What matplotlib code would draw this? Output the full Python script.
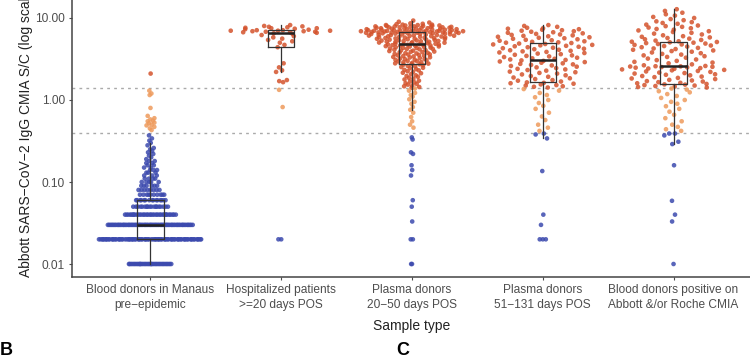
import numpy as np
import matplotlib
matplotlib.use("Agg")
import matplotlib.pyplot as plt
from matplotlib.ticker import NullLocator

plt.rcParams['font.family'] = ['Liberation Sans', 'DejaVu Sans']

categories = ["Blood donors in Manaus\npre\u2212epidemic",
              "Hospitalized patients\n>=20 days POS",
              "Plasma donors\n20\u221250 days POS",
              "Plasma donors\n51\u2212131 days POS",
              "Blood donors positive on\nAbbott &/or Roche CMIA"]

# pre-epidemic donors: S/C values are reported in 0.01 steps, so keep level + count
pre_levels = [0.01, 0.02, 0.03, 0.04, 0.05, 0.06, 0.07, 0.08, 0.09, 0.10,
              0.11, 0.12, 0.13, 0.14, 0.15, 0.16, 0.17, 0.18, 0.19, 0.20,
              0.21, 0.22, 0.23, 0.24, 0.25, 0.26, 0.28, 0.30, 0.32, 0.34, 0.37,
              0.43, 0.45, 0.47, 0.49, 0.50, 0.52, 0.53, 0.55, 0.56, 0.58, 0.60,
              0.64, 0.80, 1.15, 1.20, 1.30, 2.10]
pre_counts = [34, 80, 64, 34, 18, 15, 10, 8, 6, 5,
              4, 3, 3, 3, 2, 2, 2, 2, 1, 1,
              1, 1, 1, 1, 1, 1, 1, 1, 1, 1, 1,
              1, 1, 1, 1, 1, 1, 1, 1, 1, 1, 1,
              1, 1, 1, 1, 1, 1]

hosp = [8.2, 8.0, 7.9, 7.8, 7.7, 7.6, 7.5, 7.5, 7.4, 7.3, 7.2,
        7.1,
        7.1, 7.0, 7.0, 7.0, 6.9, 6.9, 6.8, 6.8, 6.7, 6.7,
        6.6,
        6.5, 6.4, 6.2, 6.0, 5.8, 5.6, 5.4, 5.2, 5.0, 4.7,
        4.4,
        2.8, 2.5, 2.3, 2.2, 1.75, 1.7, 1.65, 1.33, 0.82, 0.02, 0.02]

plasma_early = [
    9.3, 9.0, 8.8, 8.6, 8.5, 8.4, 8.3, 8.3, 8.2, 8.2, 8.1, 8.1,
    8.0, 8.0, 8.0, 7.9, 7.9, 7.9, 7.8, 7.8, 7.8, 7.7, 7.7, 7.7,
    7.6, 7.6, 7.6, 7.5, 7.5, 7.5, 7.4, 7.4, 7.4, 7.3, 7.3, 7.3,
    7.2, 7.2, 7.2, 7.1, 7.1, 7.1, 7.1, 7.0, 7.0, 7.0, 7.0, 6.95,
    6.95, 6.9, 6.9, 6.9, 6.85, 6.85, 6.8, 6.8, 6.8, 6.75, 6.75, 6.72,
    6.7,
    6.68, 6.66, 6.64, 6.62, 6.6, 6.58, 6.55, 6.52, 6.5, 6.46,
    6.44, 6.4, 6.38, 6.34, 6.3, 6.28, 6.24, 6.2, 6.18, 6.14,
    6.1, 6.08, 6.04, 6.0, 5.98, 5.94, 5.9, 5.88, 5.84, 5.8,
    5.78, 5.74, 5.7, 5.68, 5.64, 5.6, 5.58, 5.54, 5.5, 5.48,
    5.44, 5.4, 5.36, 5.33, 5.3, 5.25, 5.22, 5.2, 5.15, 5.12,
    5.1, 5.06, 5.02, 5.0, 4.95, 4.92, 4.88, 4.85, 4.8,
    4.78,
    4.76, 4.74, 4.72, 4.7, 4.66, 4.63, 4.6, 4.58, 4.54, 4.5,
    4.48, 4.44, 4.4, 4.36, 4.32, 4.3, 4.25, 4.2, 4.18, 4.15,
    4.1, 4.06, 4.02, 4.0, 3.95, 3.9, 3.88, 3.85, 3.8, 3.76,
    3.72, 3.7, 3.65, 3.6, 3.58, 3.55, 3.5, 3.48, 3.44, 3.4,
    3.35, 3.32, 3.3, 3.25, 3.2, 3.18, 3.15, 3.1, 3.08, 3.05,
    3.0, 2.98, 2.95, 2.9, 2.88, 2.84, 2.8, 2.78, 2.75,
    2.72,
    2.7, 2.66, 2.6, 2.58, 2.52, 2.47, 2.44, 2.38, 2.33, 2.3,
    2.24, 2.2, 2.15, 2.12, 2.06, 2.0, 1.96, 1.92, 1.86, 1.82,
    1.78, 1.72, 1.68, 1.64, 1.6, 1.57, 1.54, 1.5, 1.47, 1.44, 1.41,
    1.38, 1.3, 1.22, 1.15, 1.1, 1.02, 0.95, 0.9, 0.82, 0.76,
    0.7, 0.62, 0.55, 0.5, 0.46,
    0.35, 0.33, 0.23, 0.22, 0.16, 0.14, 0.12, 0.06, 0.05, 0.033,
    0.02, 0.02, 0.01, 0.01]

plasma_late = [
    8.2, 8.0, 7.8, 7.6, 7.5, 7.4, 7.3, 7.2, 7.1, 7.0, 6.9,
    6.8, 6.7, 6.6, 6.5, 6.4, 6.3, 6.22, 6.14, 6.06, 5.98, 5.9,
    5.82, 5.74, 5.66, 5.58, 5.5, 5.42, 5.35, 5.28, 5.2, 5.12, 5.05,
    5.0,
    4.95, 4.88, 4.82, 4.76, 4.7, 4.64, 4.58, 4.52, 4.46, 4.4,
    4.34, 4.28, 4.22, 4.16, 4.1, 4.04, 3.98, 3.92, 3.86, 3.8,
    3.74, 3.68, 3.62, 3.56, 3.5, 3.45, 3.4, 3.34, 3.28, 3.22, 3.18, 3.12,
    3.08,
    3.04, 3.0, 2.95, 2.9, 2.85, 2.8, 2.76, 2.72, 2.68, 2.64,
    2.6, 2.55, 2.5, 2.45, 2.4, 2.36, 2.32, 2.28, 2.22, 2.18,
    2.14, 2.1, 2.05, 2.0, 1.96, 1.92, 1.88, 1.84, 1.8, 1.75, 1.72, 1.68,
    1.64,
    1.62, 1.6, 1.58, 1.55, 1.52, 1.5, 1.47, 1.45, 1.42,
    1.36, 1.3, 1.22, 1.15, 1.08, 1.0, 0.92, 0.85, 0.78, 0.7,
    0.63, 0.57, 0.5, 0.46, 0.42,
    0.39, 0.38, 0.34, 0.136, 0.04, 0.03, 0.02, 0.02, 0.02]

pos_donors = [
    12.8, 12.2, 11.6, 11.1, 10.7, 10.3, 10.0, 9.7, 9.4, 9.1,
    8.9, 8.7, 8.5, 8.3, 8.1, 7.95, 7.8, 7.65, 7.5, 7.35,
    7.2, 7.05, 6.9, 6.75, 6.6, 6.45, 6.3, 6.15, 6.0, 5.9,
    5.8, 5.7, 5.6, 5.5, 5.4, 5.3, 5.2,
    5.14,
    5.1, 5.05, 5.0, 4.94, 4.88, 4.82, 4.76, 4.7, 4.62, 4.55,
    4.48, 4.4, 4.32, 4.25, 4.18, 4.1, 4.02, 3.95, 3.88, 3.8,
    3.72, 3.65, 3.58, 3.5, 3.42, 3.35, 3.28, 3.2, 3.12, 3.06,
    3.0, 2.92, 2.86, 2.8, 2.72, 2.65,
    2.6,
    2.58, 2.57, 2.56, 2.54, 2.52, 2.5, 2.48, 2.45, 2.42, 2.4,
    2.36, 2.33, 2.3, 2.26, 2.23, 2.2, 2.16, 2.13, 2.1, 2.06,
    2.03, 2.0, 1.96, 1.93, 1.9, 1.86, 1.83, 1.8, 1.76, 1.73,
    1.7, 1.68, 1.65, 1.62, 1.6, 1.57,
    1.55,
    1.54, 1.52, 1.5, 1.48, 1.46, 1.44, 1.42,
    1.38, 1.34, 1.28, 1.24, 1.18, 1.12, 1.06, 1.0, 0.95, 0.9,
    0.84, 0.78, 0.72, 0.66, 0.6, 0.55, 0.5, 0.47, 0.44, 0.42,
    0.39, 0.39, 0.37, 0.31, 0.29, 0.16, 0.059, 0.04, 0.033, 0.01]

cutoffs = [1.4, 0.4]

RED = '#d4532d'
ORANGE = '#ee9a5c'
BLUE = '#3c4aae'


def van_der_corput(n):
    seq = np.zeros(n)
    for i in range(n):
        k, denom = i + 1, 1.0
        while k:
            denom *= 2
            seq[i] += (k % 2) / denom
            k //= 2
    return seq


def quasirandom(vals, width=0.4, adjust=0.5):
    # same idea as ggbeeswarm::geom_quasirandom, density taken on the log scale
    y = np.log10(vals)
    n = len(y)
    q75, q25 = np.percentile(y, [75, 25])
    spread = min(np.std(y, ddof=1), (q75 - q25) / 1.34)
    bw = 0.9 * spread * n ** -0.2 * adjust
    grid = np.linspace(y.min() - 3 * bw, y.max() + 3 * bw, 1024)
    dens_grid = np.exp(-0.5 * ((grid[:, None] - y[None, :]) / bw) ** 2).sum(1)
    dens = np.interp(y, grid, dens_grid) / dens_grid.max()
    rank = np.empty(n, int)
    rank[np.argsort(y, kind='stable')] = np.arange(n)
    return (van_der_corput(n)[rank] - 0.5) * 2 * dens * width


def box_stats(vals):
    y = np.log10(vals)
    q1, med, q3 = np.percentile(y, [25, 50, 75])
    iqr = q3 - q1
    lo = y[y >= q1 - 1.5 * iqr].min()
    hi = y[y <= q3 + 1.5 * iqr].max()
    return dict(med=10 ** med, q1=10 ** q1, q3=10 ** q3,
                whislo=10 ** lo, whishi=10 ** hi, fliers=[])


pre = np.repeat(pre_levels, pre_counts)
groups = [pre, np.array(hosp), np.array(plasma_early),
          np.array(plasma_late), np.array(pos_donors)]

fig = plt.figure(figsize=(7.5, 3.6), dpi=100)
ax = fig.add_axes([72 / 750, 83 / 360, 680 / 750, 292 / 360])
ax.set_yscale('log')

for c in cutoffs:
    ax.axhline(c, color='#aaaaaa', lw=1.0, ls=(0, (2, 3)), zorder=1)

for i, vals in enumerate(groups):
    xs = i + 1 + quasirandom(vals)
    cols = np.where(vals >= cutoffs[0], RED,
                    np.where(vals >= cutoffs[1], ORANGE, BLUE))
    ax.scatter(xs, vals, s=11, c=cols, alpha=0.85, linewidths=0, zorder=2)

line = dict(color='#333333', lw=0.9)
ax.bxp([box_stats(v) for v in groups], positions=range(1, 6), widths=0.2,
       showfliers=False, showcaps=False, boxprops=line, whiskerprops=line,
       medianprops=dict(color='#222222', lw=1.8), zorder=3)

ax.set_xlim(0.4, 5.6)
ax.set_ylim(10 ** -2.1585, 10 ** 1.4024)
ax.set_xticks(range(1, 6))
ax.set_xticklabels(categories, linespacing=1.35)
ax.set_yticks([0.01, 0.1, 1, 10])
ax.set_yticklabels(['0.01', '0.10', '1.00', '10.00'])
ax.yaxis.set_minor_locator(NullLocator())
ax.tick_params(colors='#4d4d4d', labelsize=8.6, length=2.5, width=0.8, pad=2.5)

for s in ['top', 'right']:
    ax.spines[s].set_visible(False)
for s in ['left', 'bottom']:
    ax.spines[s].set_color('#444444')
    ax.spines[s].set_linewidth(1.1)

ax.set_xlabel('Sample type', fontsize=10, color='#222222', labelpad=6)
ax.set_ylabel('Abbott SARS\u2212CoV\u22122 IgG CMIA S/C (log scale)',
              fontsize=10, color='#222222')
ax.yaxis.set_label_coords(-0.057, 0.5)

fig.text(0.0, 0.014, 'B', fontsize=13, fontweight='bold')
fig.text(396 / 750, 0.014, 'C', fontsize=13, fontweight='bold')

fig.savefig('out.png', dpi=100)
